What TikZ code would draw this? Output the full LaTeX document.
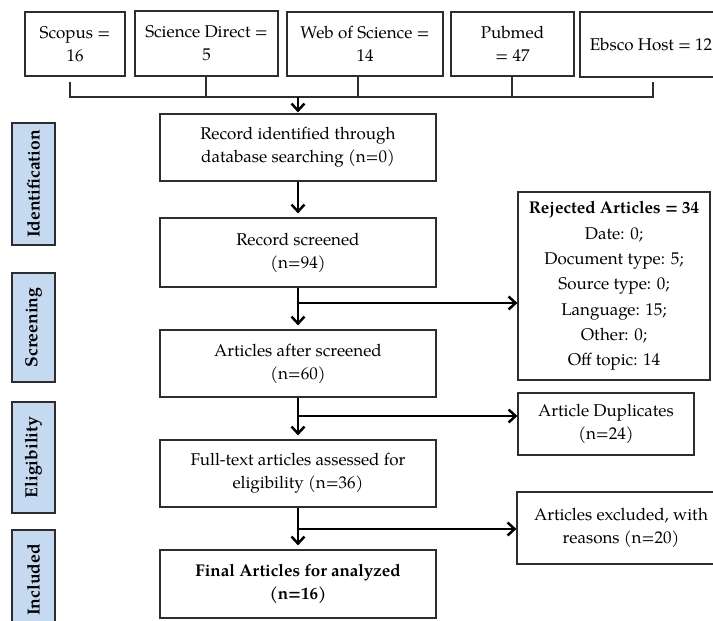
\documentclass[tikz,border=0pt]{standalone}
\usepackage{fontspec}
\setmainfont{texgyrepagella}[Extension=.otf, UprightFont=*-regular, BoldFont=*-bold, ItalicFont=*-italic, BoldItalicFont=*-bolditalic]
\usetikzlibrary{arrows.meta,calc}
\definecolor{sideblue}{RGB}{197,217,241}
\definecolor{edgegray}{RGB}{45,45,45}
\begin{document}
\begin{tikzpicture}[x=1pt,y=-1pt,
 box/.style={draw=edgegray, line width=1.2pt, align=center, inner sep=2pt, font=\fontsize{17}{23}\selectfont},
 sidebox/.style={draw=edgegray, line width=1.2pt, fill=sideblue, rotate=90, inner sep=0pt, font=\fontsize{17.5}{20}\selectfont\bfseries},
 arr/.style={line width=2.5pt, -{Straight Barb[length=7pt,width=13pt]}},
 thinline/.style={line width=1.3pt, draw=edgegray}]
\useasboundingbox (0,0) rectangle (713,621);

% top sources
\node[box, minimum width=100pt, minimum height=64pt] (scopus) at (75,44) {Scopus =\\16};
\node[box, minimum width=143pt, minimum height=65pt] (sd) at (206.5,43.5) {Science Direct =\\5};
\node[box, minimum width=156pt, minimum height=64pt] (wos) at (365,44) {Web of Science =\\14};
\node[box, minimum width=123pt, minimum height=64pt] (pub) at (512.5,44) {Pubmed\\= 47};
\node[box, minimum width=142pt, minimum height=65pt] (ebsco) at (651,44.5) {Ebsco Host = 12};

% bus
\coordinate (tS) at (70,82);
\coordinate (busL) at (70,97);
\coordinate (busR) at (653,97);
\coordinate (tE) at (653,82);
\coordinate (jD) at (206,97);
\coordinate (jW) at (358,97);
\coordinate (jP) at (512,97);
\coordinate (jM) at (298,97);
\draw[thinline] (tS) -- (busL) -- (busR) -- (tE);
\draw[thinline] (jD |- sd.south) -- (jD);
\draw[thinline] (jW |- wos.south) -- (jW);
\draw[thinline] (jP |- pub.south) -- (jP);

% main column
\node[box, minimum width=276pt, minimum height=67pt] (rec1) at (298,147.5) {Record identified through\\database searching (n=0)};
\node[box, minimum width=276pt, minimum height=69pt] (rec2) at (298,252.5) {Record screened\\(n=94)};
\node[box, minimum width=276pt, minimum height=67pt] (art) at (298,363.5) {Articles after screened\\(n=60)};
\node[box, minimum width=276pt, minimum height=67pt] (full) at (298,473.5) {Full-text articles assessed for\\eligibility (n=36)};
\node[box, minimum width=276pt, minimum height=68pt] (final) at (298,584) {\textbf{Final Articles for analyzed}\\\textbf{(n=16)}};

% right column
\node[box, minimum width=192pt, minimum height=188pt, font=\fontsize{17}{25.3}\selectfont] (rej) at (614,286) {\textbf{Rejected Articles = 34}\\Date: 0;\\Document type: 5;\\Source type: 0;\\Language: 15;\\Other: 0;\\Off topic: 14};
\node[box, minimum width=176pt, minimum height=62pt] (dup) at (606,424) {Article Duplicates\\(n=24)};
\node[box, minimum width=208pt, minimum height=72pt] (exc) at (621,528) {Articles excluded, with\\reasons (n=20)};

% side labels
\node[sidebox, minimum width=122pt, minimum height=43pt] (ident) at (33.5,184) {Identification};
\node[sidebox, minimum width=109pt, minimum height=43pt] (scr) at (33.5,327.5) {Screening};
\node[sidebox, minimum width=111pt, minimum height=43pt] (elig) at (33.5,457.5) {Eligibility};
\node[sidebox, minimum width=100pt, minimum height=43pt] (incl) at (33.5,580) {Included};

% arrows
\draw[arr, shorten >=1pt] (jM) -- (rec1.north);
\draw[arr, shorten >=4pt] (rec1) -- (rec2);
\draw[arr, shorten >=4pt] (rec2) -- (art);
\draw[arr, shorten >=4pt] (art) -- (full);
\draw[arr, shorten >=4pt] (full) -- (final);
\coordinate (b1) at (298,303);
\coordinate (b2) at (298,416);
\coordinate (b3) at (298,529);
\draw[arr] (b1) -- (b1 -| rej.west);
\draw[arr] (b2) -- (b2 -| dup.west);
\draw[arr] (b3) -- (b3 -| exc.west);
\end{tikzpicture}
\end{document}
